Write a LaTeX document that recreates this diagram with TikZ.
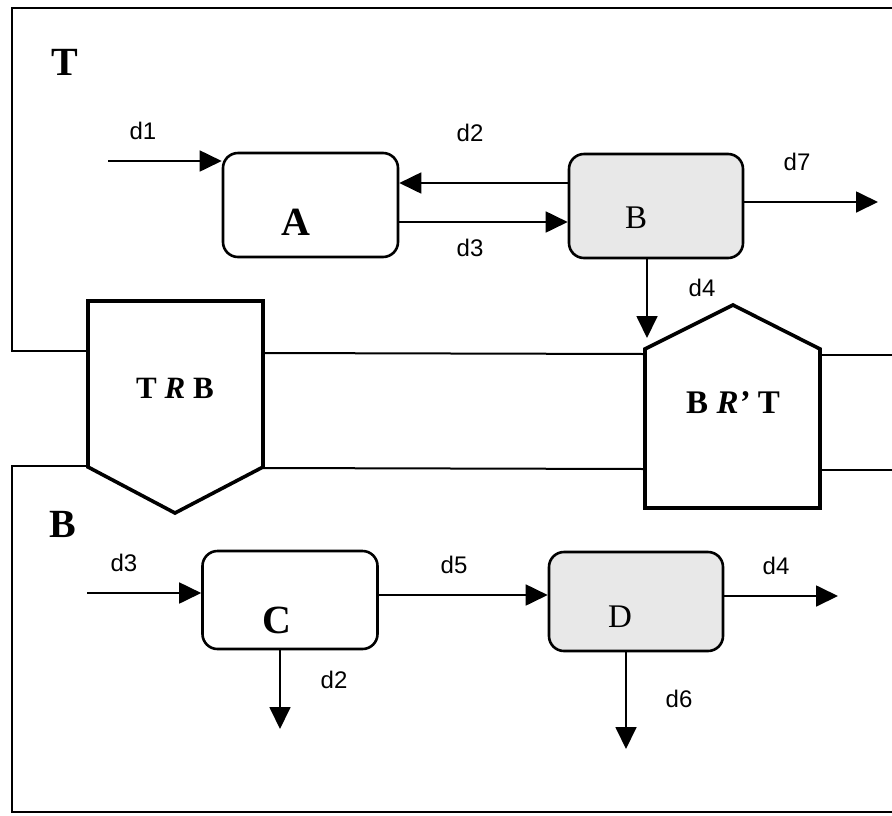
\documentclass[tikz,border=0pt]{standalone}
\usepackage{fontspec}
\setmainfont{Liberation Serif}
\newfontfamily\arialf{Liberation Sans}
\usetikzlibrary{arrows.meta}
\begin{document}
\begin{tikzpicture}[x=1pt,y=-1pt,
  region/.style={line width=2pt},
  gate/.style={line width=3.6pt,fill=white,line join=miter},
  proc/.style={draw,line width=2.6pt,rounded corners=15pt,inner sep=0pt},
  shaded/.style={fill=black!9},
  arr/.style={line width=1.8pt,-{Triangle[length=22pt,width=21pt]}},
  dlab/.style={font=\arialf\fontsize{24}{24}\selectfont,inner sep=0pt},
  big/.style={font=\fontsize{40}{40}\selectfont\bfseries,inner sep=0pt},
  mid/.style={font=\fontsize{33}{33}\selectfont,inner sep=0pt},
  gatelab/.style={font=\fontsize{31}{31}\selectfont\bfseries,inner sep=0pt}]
\useasboundingbox (0,0) rectangle (892,815);

% regions
\draw[region] (892,8) -- (12,8) -- (12,351) -- (88,351);
\draw[region] (263,353) -- (645,354);
\draw[region] (820,355) -- (892,355);
\draw[region] (88,466) -- (12,466) -- (12,812) -- (892,812);
\draw[region] (263,468) -- (645,469);
\draw[region] (820,470) -- (892,470);

% gates
\draw[gate] (88,301) -- (263,301) -- (263,467) -- (175,513) -- (88,467) -- cycle;
\draw[gate] (645,508) -- (645,349) -- (733,305) -- (820,349) -- (820,508) -- cycle;
\node[gatelab] (trb) at (175,388) {T \textit{R} B};
\node[gatelab,font=\fontsize{33}{33}\selectfont\bfseries] (brt) at (733,403) {B \textit{R'} T};

% region labels
\node[big] (tlab) at (65,62) {T};
\node[big] (blab) at (63,524) {B};

% process boxes
\node[proc,minimum width=175pt,minimum height=104pt] (A) at (310.5,205) {};
\node[proc,shaded,minimum width=174pt,minimum height=104pt] (B) at (656,206) {};
\node[proc,minimum width=175pt,minimum height=98pt] (C) at (290,600) {};
\node[proc,shaded,minimum width=174pt,minimum height=99pt] (D) at (636,601.5) {};
\node[big] (Alab) at (296,222) {A};
\node[mid] (Blab) at (636,218) {B};
\node[big] (Clab) at (277,620) {C};
\node[mid] (Dlab) at (620,617) {D};

% connector coordinates
\coordinate (d1s) at (108,161);
\coordinate (d2y) at (0,183);
\coordinate (d3y) at (0,222);
\coordinate (d7e) at (878,202);
\coordinate (d4e) at (647,338);
\coordinate (d3in) at (87,593);
\coordinate (d2e) at (280,729);
\coordinate (d5y) at (0,595);
\coordinate (d4o) at (838,596);
\coordinate (d6e) at (626,749);

% connectors
\draw[arr] (d1s) -- (d1s -| A.west);
\draw[arr] (d2y -| B.west) -- (d2y -| A.east);
\draw[arr] (d3y -| A.east) -- (d3y -| B.west);
\draw[arr] (d7e -| B.east) -- (d7e);
\draw[arr] (d4e |- B.south) -- (d4e);
\draw[arr] (d3in) -- (d3in -| C.west);
\draw[arr] (d2e |- C.south) -- (d2e);
\draw[arr] (d5y -| C.east) -- (d5y -| D.west);
\draw[arr] (d4o -| D.east) -- (d4o);
\draw[arr] (d6e |- D.south) -- (d6e);

% connector labels
\node[dlab] (l1) at (143,131) {d1};
\node[dlab] (l2) at (470,133) {d2};
\node[dlab] (l3) at (470,248) {d3};
\node[dlab] (l7) at (797,162) {d7};
\node[dlab] (l4) at (702,288) {d4};
\node[dlab] (l3b) at (124,563) {d3};
\node[dlab] (l2b) at (334,680) {d2};
\node[dlab] (l5) at (454,565) {d5};
\node[dlab] (l4b) at (776,566) {d4};
\node[dlab] (l6) at (679,699) {d6};
\end{tikzpicture}
\end{document}
